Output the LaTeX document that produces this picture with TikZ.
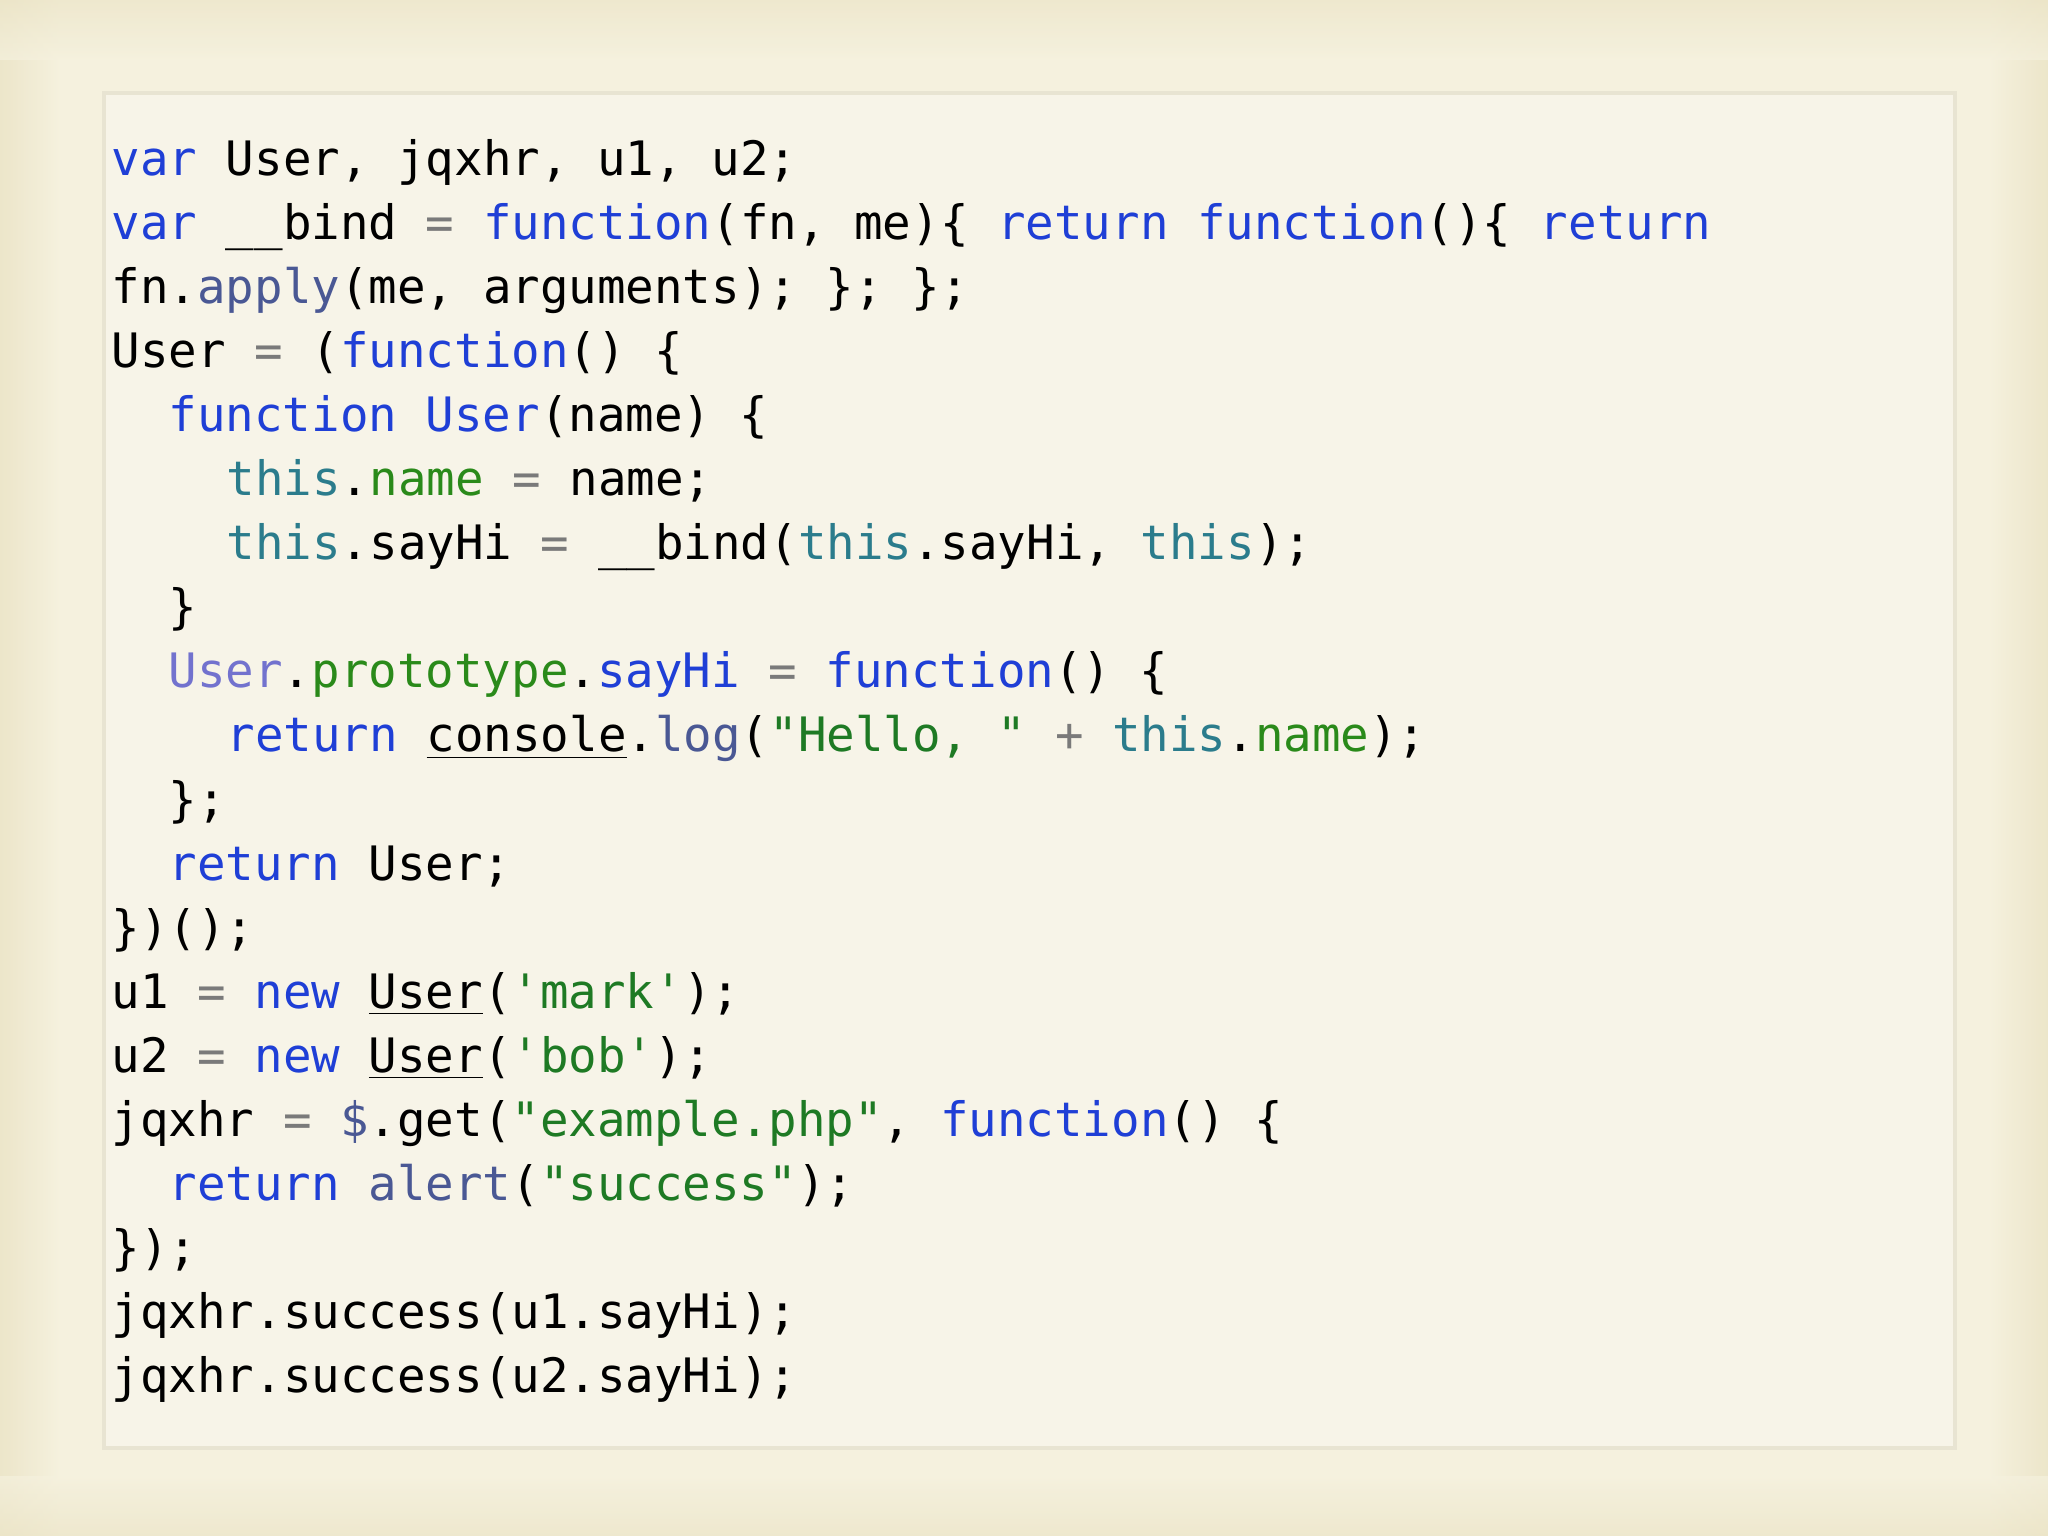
\documentclass[tikz,border=0pt]{standalone}
\usepackage{fontspec}
\setmonofont{DejaVu Sans Mono}
\definecolor{bgc}{HTML}{F5F1DE}
\definecolor{bge}{HTML}{ECE5C8}
\definecolor{boxc}{HTML}{F7F4E8}
\definecolor{boxe}{HTML}{E8E4D2}
\definecolor{kwc}{HTML}{1F3FD6}
\definecolor{thc}{HTML}{2B7C8C}
\definecolor{grc}{HTML}{2A8A1A}
\definecolor{stc}{HTML}{1E7A24}
\definecolor{fnc}{HTML}{4A5894}
\definecolor{prc}{HTML}{7272CE}
\definecolor{opc}{HTML}{7A7A7A}
\newcommand{\kw}[1]{\textcolor{kwc}{#1}}
\newcommand{\thx}[1]{\textcolor{thc}{#1}}
\newcommand{\gr}[1]{\textcolor{grc}{#1}}
\newcommand{\stx}[1]{\textcolor{stc}{#1}}
\newcommand{\fnx}[1]{\textcolor{fnc}{#1}}
\newcommand{\prx}[1]{\textcolor{prc}{#1}}
\newcommand{\opx}[1]{\textcolor{opc}{#1}}
\begin{document}
\begin{tikzpicture}[x=1cm,y=1cm,
  code/.style={anchor=base west,inner sep=0pt,font=\ttfamily\fontsize{13.5pt}{16pt}\selectfont}]
\useasboundingbox (0,0) rectangle (20.48,-15.36);
\fill[bgc] (0,0) rectangle (20.48,-15.36);
\begin{scope}[opacity=0.9]
\shade[left color=bge,right color=bgc] (0,0) rectangle (0.6,-15.36);
\shade[left color=bgc,right color=bge] (19.88,0) rectangle (20.48,-15.36);
\end{scope}
\shade[top color=bge,bottom color=bgc,opacity=0.7] (0,0) rectangle (20.48,-0.6);
\shade[top color=bgc,bottom color=bge,opacity=0.7] (0,-14.76) rectangle (20.48,-15.36);
\node[draw=boxe,line width=1pt,fill=boxc,minimum width=18.51cm,minimum height=13.55cm,anchor=north west] (box) at (1.02,-0.91) {};
\def\L{1.11}\def\M{1.68}\def\N{2.26}
\node[code] (l1) at (\L,-1.76) {\kw{var} User, jqxhr, u1, u2;};
\node[code] (l2) at (\L,-2.40) {\kw{var} \_\_bind \opx{=} \kw{function}(fn, me)\{ \kw{return} \kw{function}()\{ \kw{return}};
\node[code] (l3) at (\L,-3.04) {fn.\fnx{apply}(me, arguments); \}; \};};
\node[code] (l4) at (\L,-3.68) {User \opx{=} (\kw{function}() \{};
\node[code] (l5) at (\M,-4.32) {\kw{function} \kw{User}(name) \{};
\node[code] (l6) at (\N,-4.96) {\thx{this}.\gr{name} \opx{=} name;};
\node[code] (l7) at (\N,-5.60) {\thx{this}.sayHi \opx{=} \_\_bind(\thx{this}.sayHi, \thx{this});};
\node[code] (l8) at (\M,-6.24) {\}};
\node[code] (l9) at (\M,-6.88) {\prx{User}.\gr{prototype}.\kw{sayHi} \opx{=} \kw{function}() \{};
\node[code] (l10) at (\N,-7.52) {\kw{return} \underline{console}.\fnx{log}(\stx{"Hello, "} \opx{+} \thx{this}.\gr{name});};
\node[code] (l11) at (\M,-8.16) {\};};
\node[code] (l12) at (\M,-8.80) {\kw{return} User;};
\node[code] (l13) at (\L,-9.44) {\})();};
\node[code] (l14) at (\L,-10.08) {u1 \opx{=} \kw{new} \underline{User}(\stx{'mark'});};
\node[code] (l15) at (\L,-10.72) {u2 \opx{=} \kw{new} \underline{User}(\stx{'bob'});};
\node[code] (l16) at (\L,-11.36) {jqxhr \opx{=} \fnx{\$}.get(\stx{"example.php"}, \kw{function}() \{};
\node[code] (l17) at (\M,-12.00) {\kw{return} \fnx{alert}(\stx{"success"});};
\node[code] (l18) at (\L,-12.64) {\});};
\node[code] (l19) at (\L,-13.28) {jqxhr.success(u1.sayHi);};
\node[code] (l20) at (\L,-13.92) {jqxhr.success(u2.sayHi);};
\end{tikzpicture}
\end{document}
